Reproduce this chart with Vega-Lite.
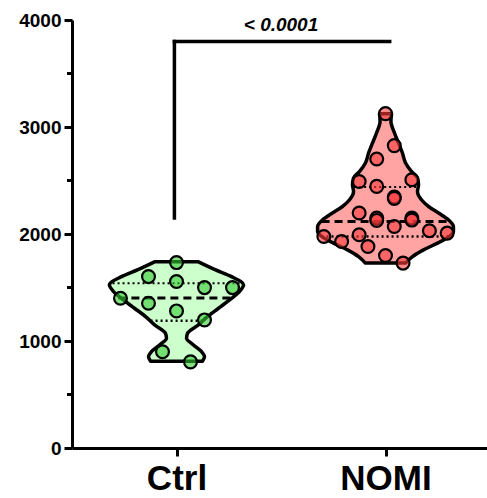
{
  "$schema": "https://vega.github.io/schema/vega-lite/v6.json",
  "width": 415,
  "height": 428,
  "autosize": "none",
  "padding": {"left": 72, "top": 20, "right": 0, "bottom": 50},
  "config": {"view": {"stroke": null}, "font": "Liberation Sans"},
  "datasets": {
    "points": [
      {"group": "Ctrl", "value": 1733, "offset": 0},
      {"group": "Ctrl", "value": 1602, "offset": -0.134},
      {"group": "Ctrl", "value": 1556, "offset": 0},
      {"group": "Ctrl", "value": 1499, "offset": 0.134},
      {"group": "Ctrl", "value": 1499, "offset": 0.268},
      {"group": "Ctrl", "value": 1400, "offset": -0.268},
      {"group": "Ctrl", "value": 1353, "offset": -0.134},
      {"group": "Ctrl", "value": 1281, "offset": 0},
      {"group": "Ctrl", "value": 1197, "offset": 0.134},
      {"group": "Ctrl", "value": 900, "offset": -0.067},
      {"group": "Ctrl", "value": 805, "offset": 0.067},
      {"group": "NOMI", "value": 3125, "offset": 0},
      {"group": "NOMI", "value": 2826, "offset": 0.042},
      {"group": "NOMI", "value": 2701, "offset": -0.042},
      {"group": "NOMI", "value": 2507, "offset": 0.126},
      {"group": "NOMI", "value": 2491, "offset": -0.126},
      {"group": "NOMI", "value": 2445, "offset": -0.042},
      {"group": "NOMI", "value": 2345, "offset": 0.042},
      {"group": "NOMI", "value": 2333, "offset": 0.042},
      {"group": "NOMI", "value": 2196, "offset": -0.126},
      {"group": "NOMI", "value": 2149, "offset": -0.042},
      {"group": "NOMI", "value": 2127, "offset": -0.042},
      {"group": "NOMI", "value": 2149, "offset": 0.126},
      {"group": "NOMI", "value": 2130, "offset": 0.126},
      {"group": "NOMI", "value": 2070, "offset": 0.042},
      {"group": "NOMI", "value": 2030, "offset": 0.21},
      {"group": "NOMI", "value": 2008, "offset": 0.295},
      {"group": "NOMI", "value": 1993, "offset": -0.126},
      {"group": "NOMI", "value": 1977, "offset": -0.295},
      {"group": "NOMI", "value": 1930, "offset": -0.21},
      {"group": "NOMI", "value": 1883, "offset": -0.084},
      {"group": "NOMI", "value": 1799, "offset": 0},
      {"group": "NOMI", "value": 1728, "offset": 0.084}
    ],
    "outline": [
      {"group": "Ctrl", "value": 1740, "density": 0.105},
      {"group": "Ctrl", "value": 1665, "density": 0.187},
      {"group": "Ctrl", "value": 1602, "density": 0.263},
      {"group": "Ctrl", "value": 1525, "density": 0.321},
      {"group": "Ctrl", "value": 1462, "density": 0.301},
      {"group": "Ctrl", "value": 1384, "density": 0.254},
      {"group": "Ctrl", "value": 1306, "density": 0.201},
      {"group": "Ctrl", "value": 1228, "density": 0.148},
      {"group": "Ctrl", "value": 1150, "density": 0.105},
      {"group": "Ctrl", "value": 1072, "density": 0.053},
      {"group": "Ctrl", "value": 1026, "density": 0.048},
      {"group": "Ctrl", "value": 963, "density": 0.081},
      {"group": "Ctrl", "value": 900, "density": 0.12},
      {"group": "Ctrl", "value": 854, "density": 0.134},
      {"group": "Ctrl", "value": 810, "density": 0.124},
      {"group": "NOMI", "value": 3125, "density": 0.029},
      {"group": "NOMI", "value": 3053, "density": 0.026},
      {"group": "NOMI", "value": 2944, "density": 0.043},
      {"group": "NOMI", "value": 2851, "density": 0.062},
      {"group": "NOMI", "value": 2757, "density": 0.081},
      {"group": "NOMI", "value": 2664, "density": 0.096},
      {"group": "NOMI", "value": 2585, "density": 0.124},
      {"group": "NOMI", "value": 2523, "density": 0.153},
      {"group": "NOMI", "value": 2460, "density": 0.158},
      {"group": "NOMI", "value": 2398, "density": 0.153},
      {"group": "NOMI", "value": 2320, "density": 0.172},
      {"group": "NOMI", "value": 2257, "density": 0.206},
      {"group": "NOMI", "value": 2196, "density": 0.254},
      {"group": "NOMI", "value": 2133, "density": 0.301},
      {"group": "NOMI", "value": 2070, "density": 0.325},
      {"group": "NOMI", "value": 2023, "density": 0.325},
      {"group": "NOMI", "value": 1977, "density": 0.306},
      {"group": "NOMI", "value": 1915, "density": 0.249},
      {"group": "NOMI", "value": 1852, "density": 0.182},
      {"group": "NOMI", "value": 1789, "density": 0.129},
      {"group": "NOMI", "value": 1728, "density": 0.096}
    ],
    "quartiles": [
      {"group": "Ctrl", "stat": "Q3", "value": 1540, "density": 0.306},
      {"group": "Ctrl", "stat": "median", "value": 1403, "density": 0.278},
      {"group": "Ctrl", "stat": "Q1", "value": 1190, "density": 0.124},
      {"group": "NOMI", "stat": "Q3", "value": 2439, "density": 0.15},
      {"group": "NOMI", "stat": "median", "value": 2117, "density": 0.306},
      {"group": "NOMI", "stat": "Q1", "value": 1977, "density": 0.306}
    ]
  },
  "layer": [
    {
      "data": {"name": "outline"},
      "transform": [
        {"calculate": "datum.group === 'Ctrl' ? 1 : 2", "as": "pos"},
        {"calculate": "datum.pos - datum.density", "as": "lo"},
        {"calculate": "datum.pos + datum.density", "as": "hi"}
      ],
      "mark": {"type": "area", "orient": "horizontal", "interpolate": "monotone", "stroke": "black", "strokeWidth": 3.5, "strokeJoin": "round"},
      "encoding": {
        "y": {"field": "value", "type": "quantitative", "scale": {"domain": [0, 4000], "nice": false},
          "axis": {"values": [0, 1000, 2000, 3000, 4000], "format": "d", "title": null, "grid": false,
            "labelFontSize": 19, "labelFontWeight": "bold", "labelColor": "black", "labelPadding": 3,
            "tickSize": 8, "tickWidth": 3, "tickColor": "black", "domainWidth": 3, "domainColor": "black"}},
        "x": {"field": "lo", "type": "quantitative", "scale": {"domain": [0.5, 2.4856], "nice": false, "zero": false},
          "axis": {"values": [1, 2], "labelExpr": "datum.value == 1 ? 'Ctrl' : 'NOMI'", "title": null, "grid": false,
            "labelFontSize": 35, "labelFontWeight": "bold", "labelColor": "black", "labelPadding": 5,
            "tickSize": 8, "tickWidth": 3, "tickColor": "black", "domainWidth": 3, "domainColor": "black"}},
        "x2": {"field": "hi"},
        "detail": {"field": "group"},
        "fill": {"condition": {"test": "datum.group === 'Ctrl'", "value": "#ccffcc"}, "value": "#ffa3a3"}
      }
    },
    {
      "data": {"name": "quartiles"},
      "transform": [
        {"calculate": "datum.group === 'Ctrl' ? 1 : 2", "as": "pos"},
        {"calculate": "datum.pos - datum.density", "as": "lo"},
        {"calculate": "datum.pos + datum.density", "as": "hi"}
      ],
      "mark": {"type": "rule", "color": "black"},
      "encoding": {
        "y": {"field": "value", "type": "quantitative"},
        "x": {"field": "lo", "type": "quantitative"},
        "x2": {"field": "hi"},
        "strokeDash": {"field": "stat", "type": "nominal", "scale": {"domain": ["median", "Q1", "Q3"], "range": [[8, 5], [2, 3], [2, 3]]}, "legend": null},
        "strokeWidth": {"field": "stat", "type": "nominal", "scale": {"domain": ["median", "Q1", "Q3"], "range": [3, 2, 2]}, "legend": null}
      }
    },
    {
      "data": {"name": "points"},
      "transform": [
        {"calculate": "(datum.group === 'Ctrl' ? 1 : 2) + datum.offset", "as": "xp"}
      ],
      "mark": {"type": "circle", "size": 165, "stroke": "black", "strokeWidth": 2.2, "fillOpacity": 0.6, "strokeOpacity": 1},
      "encoding": {
        "y": {"field": "value", "type": "quantitative"},
        "x": {"field": "xp", "type": "quantitative"},
        "fill": {"condition": {"test": "datum.group === 'Ctrl'", "value": "#33cc33"}, "value": "#ff3a3a"}
      }
    },
    {
      "data": {"values": [{"minor": 500}, {"minor": 1500}, {"minor": 2500}, {"minor": 3500}]},
      "mark": {"type": "rule", "color": "black", "strokeWidth": 3, "xOffset": -5, "x2Offset": 0},
      "encoding": {
        "y": {"field": "minor", "type": "quantitative"},
        "x": {"datum": 0.5},
        "x2": {"datum": 0.5}
      }
    },
    {
      "data": {"values": [{}]},
      "layer": [
        {
          "mark": {"type": "rule", "color": "black", "strokeWidth": 3.5, "strokeCap": "square"},
          "encoding": {"x": {"datum": 0.99}, "x2": {"datum": 2.02}, "y": {"datum": 3800}}
        },
        {
          "mark": {"type": "rule", "color": "black", "strokeWidth": 3.5, "strokeCap": "square"},
          "encoding": {"x": {"datum": 0.99}, "y": {"datum": 2150}, "y2": {"datum": 3800}}
        },
        {
          "mark": {"type": "text", "text": "< 0.0001", "fontSize": 19, "fontStyle": "italic", "fontWeight": "bold", "align": "center", "baseline": "alphabetic", "dy": -10, "color": "black"},
          "encoding": {"x": {"datum": 1.5}, "y": {"datum": 3800}}
        }
      ]
    }
  ]
}
